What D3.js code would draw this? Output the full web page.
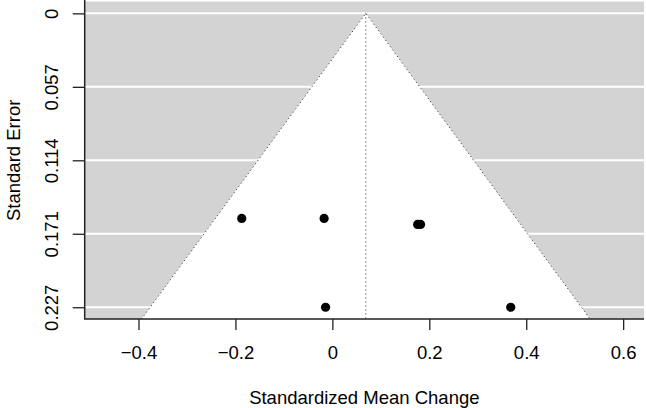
<!DOCTYPE html>
<html>
<head>
<meta charset="utf-8">
<script src="https://cdn.jsdelivr.net/npm/d3@7"></script>
<style>
  html, body { margin: 0; padding: 0; background: #fff; }
  svg text { font-family: "Liberation Sans", Arial, Helvetica, sans-serif; fill: #000; }
</style>
</head>
<body>
<div id="chart"></div>
<script>
// effect sizes and standard errors
const effects = [-0.187, -0.017, 0.176, 0.182, -0.014, 0.368];
const stdErrors = [0.1584, 0.1584, 0.163, 0.163, 0.227, 0.227];
const pooledEstimate = 0.069;
const xTicks = [-0.4, -0.2, 0, 0.2, 0.4, 0.6];
const xTickLabels = ["\u22120.4", "\u22120.2", "0", "0.2", "0.4", "0.6"];
const yTicks = [0, 0.05675, 0.1135, 0.17025, 0.227];
const yTickLabels = ["0", "0.057", "0.114", "0.171", "0.227"];

const width = 646;
const height = 408;
const plot = { left: 84.7, right: 644, top: 1.6, bottom: 319 };

// R style 4% extension of the axis limits
const seMax = 0.227;
const seExt = seMax * 0.04;
const seDomain = [-seExt, seMax + seExt];

const x = d3.scaleLinear().domain([-0.511, 0.643]).range([plot.left, plot.right]);
const y = d3.scaleLinear().domain(seDomain).range([plot.top, plot.bottom]);

const svg = d3.select("#chart").append("svg")
    .attr("width", width)
    .attr("height", height);

// grey background
svg.append("rect")
    .attr("x", plot.left)
    .attr("y", plot.top)
    .attr("width", plot.right - plot.left)
    .attr("height", plot.bottom - plot.top)
    .attr("fill", "#d3d3d3");

// white horizontal lines
svg.append("g")
    .selectAll("line")
    .data(yTicks)
    .enter().append("line")
    .attr("x1", plot.left)
    .attr("x2", plot.right)
    .attr("y1", d => y(d))
    .attr("y2", d => y(d))
    .attr("stroke", "#fff")
    .attr("stroke-width", 2);

// funnel (95% pseudo confidence region)
const z = 1.96;
const seBottom = seDomain[1];
const funnel = [
    [pooledEstimate - z * seBottom, seBottom],
    [pooledEstimate, 0],
    [pooledEstimate + z * seBottom, seBottom]
];

svg.append("path")
    .attr("d", d3.line().x(d => x(d[0])).y(d => y(d[1]))(funnel) + "Z")
    .attr("fill", "#fff");

svg.append("path")
    .attr("d", d3.line().x(d => x(d[0])).y(d => y(d[1]))(funnel))
    .attr("fill", "none")
    .attr("stroke", "#444")
    .attr("stroke-width", 1)
    .attr("stroke-dasharray", "1.2,2.8");

svg.append("line")
    .attr("x1", x(pooledEstimate))
    .attr("x2", x(pooledEstimate))
    .attr("y1", y(0))
    .attr("y2", y(seBottom))
    .attr("stroke", "#444")
    .attr("stroke-width", 1)
    .attr("stroke-dasharray", "1.2,2.8");

// studies
svg.append("g")
    .selectAll("circle")
    .data(effects.map((d, i) => ({ yi: d, se: stdErrors[i] })))
    .enter().append("circle")
    .attr("cx", d => x(d.yi))
    .attr("cy", d => y(d.se))
    .attr("r", 4.6)
    .attr("fill", "#000");

// axes
const xAxis = svg.append("g")
    .attr("transform", `translate(0,${plot.bottom})`)
    .call(d3.axisBottom(x).tickValues(xTicks)
        .tickSize(11).tickPadding(0)
        .tickFormat((d, i) => xTickLabels[i]));
xAxis.select(".domain").remove();
xAxis.selectAll(".tick line").attr("stroke", "#222").attr("stroke-width", 1.3);
xAxis.selectAll(".tick text")
    .attr("y", 34)
    .attr("dy", "0.35em")
    .style("font-size", "18.5px");

const yAxis = svg.append("g")
    .attr("transform", `translate(${plot.left},0)`)
    .call(d3.axisLeft(y).tickValues(yTicks)
        .tickSize(12).tickPadding(0)
        .tickFormat((d, i) => yTickLabels[i]));
yAxis.select(".domain").remove();
yAxis.selectAll(".tick line").attr("stroke", "#222").attr("stroke-width", 1.3);
yAxis.selectAll(".tick text")
    .attr("x", null)
    .attr("dy", null)
    .attr("text-anchor", "middle")
    .attr("dominant-baseline", "central")
    .attr("transform", "translate(-33,0) rotate(-90)")
    .style("font-size", "18.5px");

// L-shaped box
svg.append("path")
    .attr("d", `M${plot.left},0 V${plot.bottom} H${plot.right}`)
    .attr("fill", "none")
    .attr("stroke", "#222")
    .attr("stroke-width", 1.5);

// axis titles
svg.append("text")
    .attr("x", (plot.left + plot.right) / 2)
    .attr("y", 397)
    .attr("text-anchor", "middle")
    .attr("dominant-baseline", "central")
    .style("font-size", "18.5px")
    .text("Standardized Mean Change");

svg.append("text")
    .attr("transform", `translate(13,${(plot.top + plot.bottom) / 2}) rotate(-90)`)
    .attr("text-anchor", "middle")
    .attr("dominant-baseline", "central")
    .style("font-size", "18.5px")
    .text("Standard Error");
</script>
</body>
</html>
